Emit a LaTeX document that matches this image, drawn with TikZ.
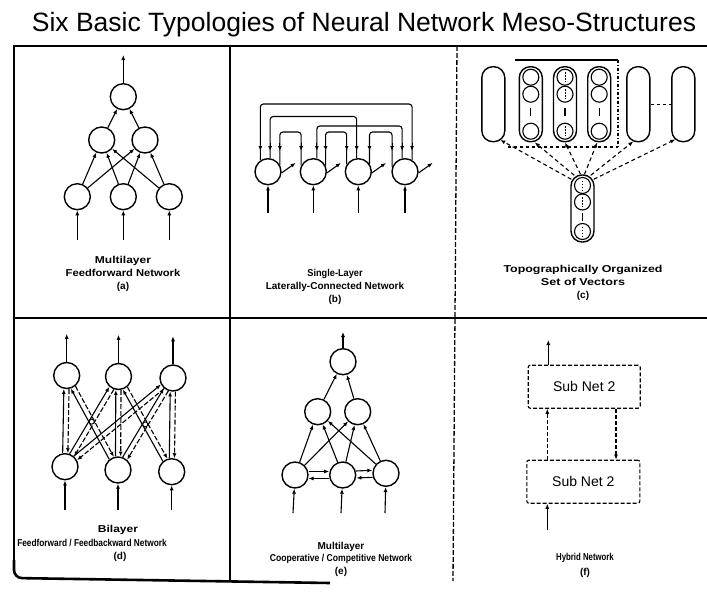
\documentclass[tikz,border=0pt]{standalone}
\usepackage{fontspec}
\setmainfont{Liberation Sans}
\usetikzlibrary{arrows.meta,calc}

% horizontal stretch of a caption line
\newcommand{\hx}[2]{\scalebox{#1}[1]{#2}}
% lateral feedback bracket between two neurons of a single layer
\newcommand{\latlink}[5]{%
  \draw[link,rounded corners=3pt] (#1.#2) -- (#1.#2 |- 0,#5) -- (#3.#4 |- 0,#5) -- (#3.#4);
  \draw[link,arr] (#1.#2 |- 0,143) -- (#1.#2 |- 0,151);
  \draw[link,arr] (#3.#4 |- 0,143) -- (#3.#4 |- 0,151);}
% feedforward (solid) and feedback (dashed) pair between two layers
\newcommand{\dualink}[2]{%
  \draw[link,arr] ($(#1)!13.5pt!(#2)!2.6pt!90:(#2)$) -- ($(#2)!13.5pt!(#1)!2.6pt!-90:(#1)$);
  \draw[link,arr,dash pattern=on 5pt off 2pt] ($(#2)!13.5pt!(#1)!2.6pt!90:(#1)$) -- ($(#1)!13.5pt!(#2)!2.6pt!-90:(#2)$);}
% two-way lateral pair inside one layer
\newcommand{\hpair}[2]{%
  \draw[link,arr] ($(#1)!13.5pt!(#2)!3.5pt!90:(#2)$) -- ($(#2)!13.5pt!(#1)!3.5pt!-90:(#1)$);
  \draw[link,arr] ($(#2)!13.5pt!(#1)!3.5pt!90:(#1)$) -- ($(#1)!13.5pt!(#2)!3.5pt!-90:(#2)$);}

\begin{document}
\begin{tikzpicture}[x=1pt,y=-1pt,
  neuron/.style={circle,draw,line width=1.4pt,minimum size=26pt,inner sep=0pt},
  arr/.style={-{Latex[length=5pt,width=4pt]}},
  link/.style={line width=1.1pt},
  frame/.style={line width=1.3pt},
  lbl/.style={font=\fontsize{10}{13}\selectfont\bfseries,align=center,inner sep=0pt},
  pill/.style={draw,line width=1.4pt,rounded corners=11pt,minimum width=23pt,minimum height=75pt,inner sep=0pt},
  cell/.style={circle,draw,line width=1.1pt,minimum size=16pt,inner sep=0pt},
  subnet/.style={draw,dash pattern=on 4pt off 2pt,line width=1.1pt,rounded corners=2pt,minimum width=112pt,minimum height=43pt,font=\fontsize{14}{16}\selectfont},
  xing/.style={circle,draw,fill=white,inner sep=0pt,minimum size=5pt,line width=0.9pt}
]
\useasboundingbox (0,0) rectangle (707,592);

% ---- title ----
\node[font=\fontsize{26.5}{30}\selectfont,anchor=base,inner sep=0pt] (title) at (364,31)
  {Six Basic Typologies of Neural Network Meso-Structures};

% ---- panel grid ----
\draw[frame] (707,46) -- (14,46) -- (14,566);
\draw[line width=2.6pt,rounded corners=8pt] (14,560) -- (14,578) -- (330,583);
\draw[frame] (230,46) -- (230,581);
\draw[frame] (14,318) -- (707,318);
\draw[frame,dash pattern=on 5pt off 2pt] (457,46) -- (453,581);

% ---- (a) multilayer feedforward ----
\node[neuron] (ta)  at (123.3,96.7) {};
\node[neuron] (ma1) at (101.7,140) {};
\node[neuron] (ma2) at (145,140) {};
\foreach \n/\x in {ba1/77.3,ba2/123.3,ba3/169.3}{
  \node[neuron] (\n) at (\x,196.7) {};
  \coordinate (i\n) at (\x,240);
  \draw[link,arr] (i\n) -- (\n);}
\coordinate (oa) at (123.3,55);
\draw[link,arr] (ta) -- (oa);
\draw[link,arr] (ma1) -- (ta);
\draw[link,arr] (ma2) -- (ta);
\foreach \b in {ba1,ba2,ba3}{\foreach \m in {ma1,ma2}{\draw[link,arr] (\b) -- (\m);}}
\node[lbl] (la) at (123,274) {\hx{1.2}{Multilayer}\\\hx{1.12}{Feedforward Network}\\(a)};

% ---- (b) single-layer laterally connected ----
\foreach \n/\x in {nb1/268,nb2/313.3,nb3/358.3,nb4/405}{
  \node[neuron] (\n) at (\x,171.7) {};
  \coordinate (i\n) at (\x,213);
  \draw[link,arr] (i\n) -- (\n);
  \draw[link,arr] (\n.-5) -- ++(14,-10);}
\latlink{nb1}{124}{nb4}{59}{104}
\latlink{nb1}{81}{nb3}{97}{116.5}
\latlink{nb2}{75}{nb4}{102}{126}
\latlink{nb1}{30}{nb2}{153}{132}
\latlink{nb2}{26}{nb3}{148}{132}
\latlink{nb3}{35}{nb4}{161}{132}
\node[lbl] (lb) at (335,287) {\hx{0.92}{Single-Layer}\\Laterally-Connected Network\\(b)};

% ---- (c) topographically organized set of vectors ----
\foreach \n/\x in {p1/493.3,p2/530.8,p3/565,p4/599.2,p5/638.3,p6/683.3}{
  \node[pill] (\n) at (\x,104.2) {};}
\foreach \p in {p2,p3,p4}{
  \node[cell] (\p a) at ($(\p)+(0,-27)$) {};
  \node[cell] (\p b) at ($(\p)+(0,-10)$) {};
  \node[cell] (\p c) at ($(\p)+(0,27)$) {};
  \draw[link] ($(\p)+(0,4)$) -- ($(\p)+(0,12)$);}
\foreach \c in {p3a,p3b,p3c}{
  \draw[line width=0.9pt,dash pattern=on 1.5pt off 1.5pt] ($(\c)+(0,-5)$) -- ($(\c)+(0,5)$);}
\draw[link] (515,60) -- (618,60);
\draw[link,dash dot] (618,60) -- (618,148);
\draw[link,dashed] (508,147) -- (618,147);
\draw[link,dashed] (p5) -- (p6);
\node[pill,minimum height=67pt] (pb) at (582.5,208.5) {};
\node[cell] (pba) at ($(pb)+(0,-23)$) {};
\node[cell] (pbb) at ($(pb)+(0,-6.5)$) {};
\node[cell] (pbc) at ($(pb)+(0,23)$) {};
\draw[link] ($(pb)+(0,4)$) -- ($(pb)+(0,12)$);
\foreach \c in {pba,pbb,pbc}{
  \draw[line width=0.9pt,dash pattern=on 1.5pt off 1.5pt] ($(\c)+(0,-5)$) -- ($(\c)+(0,5)$);}
\begin{scope}[link,arr,dash pattern=on 4pt off 3pt]
  \draw ($(pb.north west)+(1,5)$)  -- ($(p1.south)+(7,-2.5)$);
  \draw ($(pb.north west)+(4,1)$)  -- ($(p2.south)+(4,0)$);
  \draw ($(pb.north)+(-2,0)$)      -- (p3.south);
  \draw ($(pb.north)+(2,0)$)       -- ($(p4.south)+(-2,0)$);
  \draw ($(pb.north east)+(-4,1)$) -- ($(p5.south)+(-5,-1)$);
  \draw ($(pb.north east)+(-1,5)$) -- ($(p6.south)+(-8,-3)$);
\end{scope}
\node[lbl] (lc) at (583,283) {\hx{1.24}{Topographically Organized}\\\hx{1.26}{Set of Vectors}\\(c)};

% ---- (d) bilayer feedforward / feedbackward ----
\node[neuron] (td1) at (66.7,375.5) {};
\node[neuron] (td2) at (118.5,376.5) {};
\node[neuron] (td3) at (173,378) {};
\node[neuron] (bd1) at (65,466.7) {};
\node[neuron] (bd2) at (118,470) {};
\node[neuron] (bd3) at (171.7,471.7) {};
\foreach \n in {td1,td2,td3}{\draw[link,arr] (\n.north) -- ++(0,-28);}
\foreach \n/\x in {bd1/65,bd2/118,bd3/171.7}{
  \coordinate (i\n) at (\x,510);
  \draw[link,arr] (i\n) -- (\n);}
\dualink{bd1}{td1}
\dualink{bd2}{td2}
\dualink{bd3}{td3}
\dualink{bd2}{td1}
\dualink{bd1}{td2}
\dualink{bd3}{td2}
\dualink{bd2}{td3}
\dualink{bd1}{td3}
\node[xing] (xd1) at (intersection of td1--bd2 and td2--bd1) {};
\node[xing] (xd2) at (intersection of td2--bd3 and td3--bd2) {};
\node[lbl] (ld1) at (118,530) {\hx{1.2}{Bilayer}};
\node[lbl] (ld2) at (92,543) {\hx{0.83}{Feedforward / Feedbackward Network}};
\node[lbl] (ld3) at (120,557) {(d)};

% ---- (e) multilayer cooperative / competitive ----
\node[neuron] (te)  at (343,361.7) {};
\node[neuron] (me1) at (317.7,411.7) {};
\node[neuron] (me2) at (357.7,411.7) {};
\node[neuron] (be1) at (295,475) {};
\node[neuron] (be2) at (342.7,475) {};
\node[neuron] (be3) at (386,473.3) {};
\coordinate (oe) at (343,332);
\draw[link,arr] (te) -- (oe);
\draw[link,arr] (me1) -- (te);
\draw[link,arr] (me2) -- (te);
\foreach \b in {be1,be2,be3}{\foreach \m in {me1,me2}{\draw[link,arr] (\b) -- (\m);}}
\hpair{be1}{be2}
\hpair{be2}{be3}
\foreach \n/\x in {be1/293,be2/341,be3/385}{
  \coordinate (i\n) at (\x,513);
  \draw[link,arr] (i\n) -- (\n);}
\node[lbl,font=\fontsize{10}{12.5}\selectfont\bfseries] (le) at (341,559)
  {Multilayer\\\hx{0.86}{Cooperative / Competitive Network}\\(e)};

% ---- (f) hybrid ----
\node[subnet] (sn1) at (584.2,386.7) {Sub Net 2};
\node[subnet,minimum width=113pt] (sn2) at (583.3,481.7) {Sub Net 2};
\coordinate (of) at (548.3,340);
\draw[link,arr] (sn1.north -| of) -- (of);
\draw[link,arr,dash pattern=on 4pt off 2pt] (sn2.north -| 547.3,0) -- (sn1.south -| 547.3,0);
\draw[link,arr,dash pattern=on 4pt off 2pt] (sn1.south -| 616,0) -- (sn2.north -| 616,0);
\coordinate (if) at (547.3,530);
\draw[link,arr] (if) -- (sn2.south -| if);
\node[lbl,font=\fontsize{10}{15}\selectfont\bfseries] (lf) at (585,565) {\hx{0.78}{Hybrid Network}\\(f)};
\end{tikzpicture}
\end{document}
